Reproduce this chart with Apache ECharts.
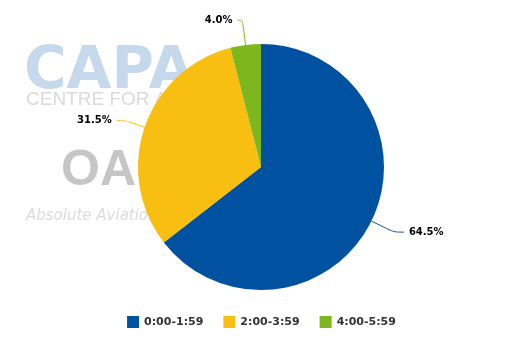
<!DOCTYPE html>
<html>
<head>
<meta charset="utf-8">
<script src="https://cdn.jsdelivr.net/npm/echarts@6/dist/echarts.min.js"></script>
<style>
html,body{margin:0;padding:0;background:#fff;}
#chart{width:523px;height:349px;}
</style>
</head>
<body>
<div id="chart"></div>
<script>
// Share of flights by time band
const categories = ['0:00-1:59', '2:00-3:59', '4:00-5:59'];
const shares = [64.5, 31.5, 4.0];
const colors = ['#0052A0', '#F8BE12', '#7DB71E'];
// leader line lengths [radial, horizontal] for each slice label
const leaderLines = [[25, 10], [20, 9], [25, 5]];

const chart = echarts.init(document.getElementById('chart'), null, {renderer: 'canvas'});

const data = categories.map((name, i) => ({
  name: name,
  value: shares[i],
  itemStyle: {color: colors[i]},
  labelLine: {length: leaderLines[i][0], length2: leaderLines[i][1]}
}));

chart.setOption({
  animation: false,
  backgroundColor: '#ffffff',
  graphic: [
    {type: 'text', z: -10, left: 24, top: 44, style: {text: 'CAPA', font: '900 58px "DejaVu Sans"', fill: '#C6D9EC'}},
    {type: 'text', z: -10, left: 26, top: 90, style: {text: 'CENTRE FOR AVIATION', font: '300 19px "Liberation Sans"', fill: '#DADADA'}},
    {type: 'text', z: -10, left: 61, top: 146, style: {text: 'OAG', font: 'bold 50px "Liberation Sans"', fill: '#C6C6C6'}},
    {type: 'text', z: -10, left: 26, top: 209, style: {text: 'Absolute Aviation Analysis', font: 'italic 15px "DejaVu Sans"', fill: '#DCDCDC'}}
  ],
  legend: {
    bottom: 16,
    left: 'center',
    itemWidth: 12,
    itemHeight: 12,
    itemGap: 20,
    icon: 'rect',
    textStyle: {fontFamily: 'DejaVu Sans', fontWeight: 'bold', fontSize: 11, color: '#333'},
    data: categories
  },
  series: [{
    type: 'pie',
    center: [261, 167],
    radius: [0, 123],
    startAngle: 90,
    clockwise: true,
    data: data,
    label: {
      show: true,
      formatter: p => p.value.toFixed(1) + '%',
      fontFamily: 'DejaVu Sans',
      fontWeight: 'bold',
      fontSize: 10,
      color: '#000'
    },
    labelLine: {show: true, smooth: true, lineStyle: {width: 1}},
    emphasis: {disabled: true}
  }]
});
</script>
</body>
</html>
